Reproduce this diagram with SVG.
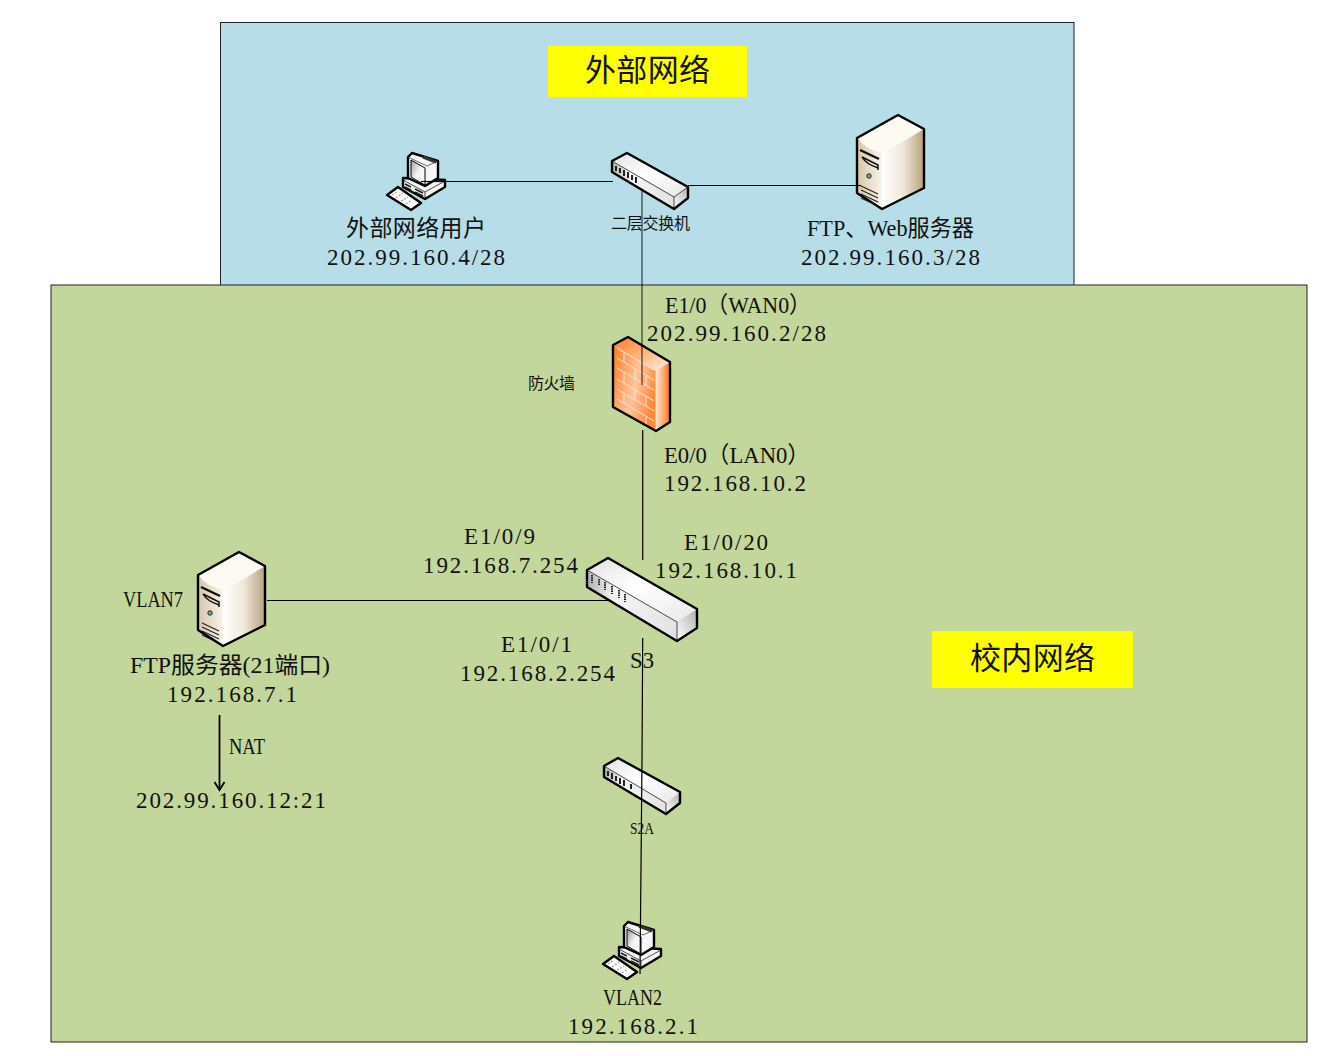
<svg xmlns="http://www.w3.org/2000/svg" xmlns:xlink="http://www.w3.org/1999/xlink" width="1341" height="1056" viewBox="0 0 1341 1056">
<style>
text{font-family:"Liberation Serif","Noto Sans CJK SC",serif;fill:#111;font-size:23px;font-weight:400}
.h{font-size:31px}.s{font-size:16px}
.o{stroke:#000;stroke-width:2.4;stroke-linejoin:round;fill:none}
.c{stroke:#000;stroke-width:1.2;fill:none}
</style>
<defs>
<linearGradient id="swTop" x1="0" y1="0" x2="1" y2="1"><stop offset="0" stop-color="#e2e2e2"/><stop offset=".45" stop-color="#fff"/><stop offset="1" stop-color="#e8e8e8"/></linearGradient>
<linearGradient id="swFront" x1="0" y1="0" x2="1" y2="0"><stop offset="0" stop-color="#b0b0b0"/><stop offset=".3" stop-color="#f6f6f6"/><stop offset="1" stop-color="#e2e2e2"/></linearGradient>
<linearGradient id="swEnd" x1="0" y1="1" x2="1" y2="0"><stop offset="0" stop-color="#fff"/><stop offset="1" stop-color="#b0b0b0"/></linearGradient>
<linearGradient id="srvSide" x1="0" y1="0" x2="1" y2="0"><stop offset="0" stop-color="#fff"/><stop offset=".5" stop-color="#efe8da"/><stop offset="1" stop-color="#b8a17c"/></linearGradient>
<linearGradient id="srvFront" x1="0" y1="0" x2="1" y2="0"><stop offset="0" stop-color="#d6c6a6"/><stop offset="1" stop-color="#f8f4ea"/></linearGradient>
<linearGradient id="fwFront" x1="0" y1="0" x2="1" y2=".5"><stop offset="0" stop-color="#ff7d22"/><stop offset=".6" stop-color="#ffc49a"/><stop offset="1" stop-color="#ff8a38"/></linearGradient>
<linearGradient id="fwSide" x1="0" y1="0" x2="1" y2="0"><stop offset="0" stop-color="#ffe6d2"/><stop offset="1" stop-color="#ff7416"/></linearGradient>
<linearGradient id="fwTop" x1="0" y1="0" x2="1" y2="1"><stop offset="0" stop-color="#ff7a1e"/><stop offset="1" stop-color="#fff0e0"/></linearGradient>
<linearGradient id="scr" x1="0" y1="0" x2="1" y2="1"><stop offset="0" stop-color="#9a9a9a"/><stop offset=".5" stop-color="#f4f4f4"/><stop offset="1" stop-color="#ffffff"/></linearGradient>
<marker id="arr" markerWidth="12" markerHeight="12" refX="9" refY="6" orient="auto" markerUnits="userSpaceOnUse"><path d="M2 1 L10 6 L2 11" fill="none" stroke="#000" stroke-width="1.8"/></marker>
<g id="pc">
<path fill="#fff" class="o" style="fill:#fff" d="M387 195 L398 187 L421 203 L411 210 Z"/>
<path d="M392 195 L398 191 M396 198 L403 193 M401 201 L408 197 M406 204 L412 200" stroke="#aaa" stroke-width="1.5" stroke-dasharray="2 1.5" fill="none"/>
<path style="fill:#f4f4f4" class="o" d="M403 178 L445 180 L445 187 L425 199 L403 187 Z"/>
<path d="M403 180 L425 192 L445 181 M425 192 L425 199" stroke="#222" stroke-width=".8" fill="none"/>
<path d="M405 184 L411 187 M405 187 L411 190 M415 189 L423 193 M415 192 L423 196" stroke="#222" stroke-width="1.4" fill="none"/>
<path style="fill:#f6f6f6" class="o" d="M408 157 L412 153 L438 161 L438 178 L425 186 L408 178 Z"/>
<path d="M408 157 L427 166 L438 161" stroke="#444" stroke-width=".8" fill="none"/>
<path fill="url(#scr)" stroke="#000" stroke-width="1" d="M411 160 L425 168 L425 185 L411 177 Z"/>
<path d="M423 157 L436 162" stroke="#333" stroke-width="3" fill="none"/>
</g>
<g id="server">
<path fill="url(#srvSide)" d="M882 152 L924 129 L924 188 L882 209 Z"/>
<path fill="url(#srvFront)" d="M857 138 L882 152 L882 209 L857 193 Z"/>
<path fill="#fcfaf3" d="M857 138 L898 115 L924 129 L884 153 Q867 151 857 138 Z"/>
<path d="M860 150 L879 159" stroke="#111" stroke-width="2.4" fill="none"/>
<path d="M862 157 L878 165 L878 170 M862 157 Q866 164 878 168" stroke="#111" stroke-width="1.5" fill="none"/>
<circle cx="869" cy="176" r="2.200" fill="#7aa" stroke="#222"/>
<path d="M861 186 L878 194 M861 190 L878 198 M861 194 L878 202 M861 198 L876 205" stroke="#222" stroke-width="1.1" fill="none"/>
<path d="M882 153 V208" stroke="#fff" stroke-width="1"/>
<path class="o" d="M857 138 L898 115 L924 129 L924 188 L882 209 L857 193 Z"/>
</g>
</defs>
<rect width="1341" height="1056" fill="#fff"/>
<rect id="external-zone" x="220.500" y="22.500" width="853.500" height="263" fill="#B7DDE8" stroke="#222" stroke-width="1"/>
<rect id="campus-zone" x="51" y="285" width="1256" height="757" fill="#C3D69B" stroke="#222" stroke-width="1"/>
<g id="external-title"><rect x="548" y="46" width="199" height="51" fill="#ff0"/><text class="h" x="585" y="81" textLength="125">外部网络</text></g>
<g id="campus-title"><rect x="932" y="631" width="201" height="57" fill="#ff0"/><text class="h" x="970" y="669" textLength="125">校内网络</text></g>

<g id="connectors-back">
<path class="c" d="M425 181.500 H613"/>
<path class="c" d="M688 185.500 H857"/>
<path class="c" d="M642.700 430 V560"/>
<path class="c" d="M267 600.500 H612"/>
<path class="c" d="M642.700 638 L642 760"/>
</g>

<g id="ext-user"><use xlink:href="#pc" href="#pc"/><path class="c" d="M421 181.500 H445"/>
<text x="346" y="236" textLength="140">外部网络用户</text><text x="327" y="265" textLength="178">202.99.160.4/28</text></g>
<g id="l2-switch">
<path fill="url(#swEnd)" d="M674 197 L688 187 L688 198 L674 209 Z"/>
<path fill="url(#swFront)" d="M612 161 L674 197 L674 209 L612 172 Z"/>
<path fill="url(#swTop)" d="M612 161 L627 153 L688 187 L674 197 Z"/>
<path d="M612 161 L674 197 M674 197 L688 187 M674 197 V209" stroke="#222" stroke-width=".8" fill="none"/>
<path d="M616 166 V171 M620 168 V173 M624 170 V176 M628 172 V178 M632 175 V180 M636 177 V183" stroke="#222" stroke-width="2"/>
<path class="o" d="M612 161 L627 153 L688 187 L688 198 L674 209 L612 172 Z"/>
</g>
<g id="ftp-web-server"><use xlink:href="#server" href="#server"/>
<path class="c" d="M857 185.500 H861"/>
<text x="807" y="236" textLength="167" lengthAdjust="spacingAndGlyphs">FTP、Web服务器</text><text x="801" y="265" textLength="179">202.99.160.3/28</text></g>
<g id="firewall">
<path fill="url(#fwSide)" d="M656 371 L670 362 L670 422 L656 431 Z"/>
<path fill="url(#fwFront)" d="M613 345 L656 371 L656 431 L613 407 Z"/>
<path fill="url(#fwTop)" d="M613 345 L628 337 L670 362 L656 371 Z"/>
<path d="M617 348 L654 370 M617 358 L654 380 M617 368 L654 390 M617 379 L654 401 M617 389 L654 411 M617 399 L654 421 M624 352 V362 M635 369 V380 M646 376 V386 M624 373 V383 M635 390 V400 M646 396 V407 M624 394 V403 M646 417 V428 M656 372 V430" stroke="#ffe6d2" stroke-width="1" fill="none"/>
<path class="o" d="M613 345 L628 337 L670 362 L670 422 L656 431 L613 407 Z"/>
</g>
<path id="wan-link" d="M642 190 V385" stroke="#000" stroke-width="1.600" opacity=".55" fill="none"/>
<g id="s3">
<path fill="url(#swEnd)" d="M677 622 L697 609 L697 628 L677 641 Z"/>
<path fill="url(#swFront)" d="M587 570 L677 622 L677 641 L587 587 Z"/>
<path fill="url(#swTop)" d="M587 570 L608 558 L697 609 L677 622 Z"/>
<path d="M587 570 L677 622 V641" stroke="#222" stroke-width=".8" fill="none"/>
<path d="M592 575 V583 M599 579 V586 M605 582 V590 M612 586 V594 M619 590 V598 M625 594 V602" stroke="#222" stroke-width="2" stroke-dasharray="1.500 .8"/>
<path class="o" d="M587 570 L608 558 L697 609 L697 628 L677 641 L587 587 Z"/>
</g>
<g id="s2a">
<path fill="url(#swEnd)" d="M666 803 L680 792 L680 803 L666 814 Z"/>
<path fill="url(#swFront)" d="M604 766 L666 803 L666 814 L604 777 Z"/>
<path fill="url(#swTop)" d="M604 766 L618 758 L680 792 L666 803 Z"/>
<path d="M604 766 L666 803 V814" stroke="#222" stroke-width=".8" fill="none"/>
<path d="M608 771 V776 M612 773 V779 M616 776 V781 M620 778 V784 M624 780 V786 M631 784 V789" stroke="#222" stroke-width="2"/>
<path class="o" d="M604 766 L618 758 L680 792 L680 803 L666 814 L604 777 Z"/>
</g>
<g id="ftp-server"><use xlink:href="#server" href="#server" transform="translate(-659 437)"/></g>
<g id="vlan2-pc"><use xlink:href="#pc" href="#pc" transform="translate(216 769)"/></g>
<g id="connectors"><path class="c" d="M642 760 L640 974"/></g>

<g id="labels">
<text class="s" x="611" y="229" textLength="79">二层交换机</text>
<text x="665" y="313" textLength="146" lengthAdjust="spacingAndGlyphs">E1/0（WAN0）</text>
<text x="647" y="341" textLength="179">202.99.160.2/28</text>
<text class="s" x="528" y="389" textLength="47">防火墙</text>
<text x="664" y="463" textLength="146" lengthAdjust="spacingAndGlyphs">E0/0（LAN0）</text>
<text x="664" y="491" textLength="142">192.168.10.2</text>
<text x="464" y="544" textLength="71">E1/0/9</text>
<text x="423" y="573" textLength="155">192.168.7.254</text>
<text x="684" y="550" textLength="84">E1/0/20</text>
<text x="655" y="578" textLength="142">192.168.10.1</text>
<text x="123" y="607" textLength="60" lengthAdjust="spacingAndGlyphs">VLAN7</text>
<text x="130" y="673" textLength="200" lengthAdjust="spacingAndGlyphs">FTP服务器(21端口)</text>
<text x="167" y="702" textLength="130">192.168.7.1</text>
<text x="501" y="652" textLength="71">E1/0/1</text>
<text x="460" y="681" textLength="155">192.168.2.254</text>
<text x="630" y="668" textLength="24" lengthAdjust="spacingAndGlyphs">S3</text>
<text x="229" y="754" textLength="36" lengthAdjust="spacingAndGlyphs">NAT</text>
<text x="136" y="808" textLength="190">202.99.160.12:21</text>
<text class="s" x="630" y="834" textLength="24" lengthAdjust="spacingAndGlyphs">S2A</text>
<text x="603" y="1005" textLength="59" lengthAdjust="spacingAndGlyphs">VLAN2</text>
<text x="568" y="1034" textLength="130">192.168.2.1</text>
</g>
<path id="nat-arrow" d="M219.500 715 V789" stroke="#000" stroke-width="1.800" fill="none" marker-end="url(#arr)"/>
</svg>
